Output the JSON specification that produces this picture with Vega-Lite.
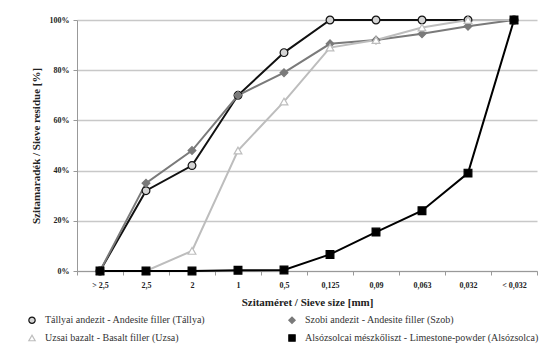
{
  "$schema": "https://vega.github.io/schema/vega-lite/v6.json",
  "width": 460,
  "height": 251,
  "autosize": "none",
  "padding": {"left": 77, "top": 20, "right": 3, "bottom": 77},
  "background": "white",
  "config": {
    "font": "Liberation Serif",
    "view": {"stroke": null},
    "legend": {
      "title": null,
      "orient": "none",
      "legendX": -50,
      "legendY": 295,
      "direction": "horizontal",
      "columns": 2,
      "columnPadding": 80,
      "rowPadding": 6,
      "labelFont": "Liberation Serif",
      "labelFontSize": 10,
      "labelColor": "#333",
      "labelLimit": 300,
      "labelOffset": 8,
      "symbolSize": 40,
      "symbolStrokeWidth": 1.2
    }
  },
  "data": {
    "values": [
      {"series": "Tállyai andezit - Andesite filler (Tállya)", "size": "> 2,5", "value": 0},
      {"series": "Tállyai andezit - Andesite filler (Tállya)", "size": "2,5", "value": 0.32},
      {"series": "Tállyai andezit - Andesite filler (Tállya)", "size": "2", "value": 0.42},
      {"series": "Tállyai andezit - Andesite filler (Tállya)", "size": "1", "value": 0.70},
      {"series": "Tállyai andezit - Andesite filler (Tállya)", "size": "0,5", "value": 0.87},
      {"series": "Tállyai andezit - Andesite filler (Tállya)", "size": "0,125", "value": 1.0},
      {"series": "Tállyai andezit - Andesite filler (Tállya)", "size": "0,09", "value": 1.0},
      {"series": "Tállyai andezit - Andesite filler (Tállya)", "size": "0,063", "value": 1.0},
      {"series": "Tállyai andezit - Andesite filler (Tállya)", "size": "0,032", "value": 1.0},
      {"series": "Tállyai andezit - Andesite filler (Tállya)", "size": "< 0,032", "value": 1.0},
      {"series": "Szobi andezit - Andesite filler (Szob)", "size": "> 2,5", "value": 0},
      {"series": "Szobi andezit - Andesite filler (Szob)", "size": "2,5", "value": 0.35},
      {"series": "Szobi andezit - Andesite filler (Szob)", "size": "2", "value": 0.48},
      {"series": "Szobi andezit - Andesite filler (Szob)", "size": "1", "value": 0.70},
      {"series": "Szobi andezit - Andesite filler (Szob)", "size": "0,5", "value": 0.79},
      {"series": "Szobi andezit - Andesite filler (Szob)", "size": "0,125", "value": 0.905},
      {"series": "Szobi andezit - Andesite filler (Szob)", "size": "0,09", "value": 0.92},
      {"series": "Szobi andezit - Andesite filler (Szob)", "size": "0,063", "value": 0.945},
      {"series": "Szobi andezit - Andesite filler (Szob)", "size": "0,032", "value": 0.975},
      {"series": "Szobi andezit - Andesite filler (Szob)", "size": "< 0,032", "value": 1.0},
      {"series": "Uzsai bazalt - Basalt filler (Uzsa)", "size": "> 2,5", "value": 0},
      {"series": "Uzsai bazalt - Basalt filler (Uzsa)", "size": "2,5", "value": 0},
      {"series": "Uzsai bazalt - Basalt filler (Uzsa)", "size": "2", "value": 0.08},
      {"series": "Uzsai bazalt - Basalt filler (Uzsa)", "size": "1", "value": 0.48},
      {"series": "Uzsai bazalt - Basalt filler (Uzsa)", "size": "0,5", "value": 0.675},
      {"series": "Uzsai bazalt - Basalt filler (Uzsa)", "size": "0,125", "value": 0.89},
      {"series": "Uzsai bazalt - Basalt filler (Uzsa)", "size": "0,09", "value": 0.92},
      {"series": "Uzsai bazalt - Basalt filler (Uzsa)", "size": "0,063", "value": 0.97},
      {"series": "Uzsai bazalt - Basalt filler (Uzsa)", "size": "0,032", "value": 1.0},
      {"series": "Uzsai bazalt - Basalt filler (Uzsa)", "size": "< 0,032", "value": 1.0},
      {"series": "Alsózsolcai mészkőliszt - Limestone-powder (Alsózsolca)", "size": "> 2,5", "value": 0},
      {"series": "Alsózsolcai mészkőliszt - Limestone-powder (Alsózsolca)", "size": "2,5", "value": 0},
      {"series": "Alsózsolcai mészkőliszt - Limestone-powder (Alsózsolca)", "size": "2", "value": 0},
      {"series": "Alsózsolcai mészkőliszt - Limestone-powder (Alsózsolca)", "size": "1", "value": 0.003},
      {"series": "Alsózsolcai mészkőliszt - Limestone-powder (Alsózsolca)", "size": "0,5", "value": 0.004},
      {"series": "Alsózsolcai mészkőliszt - Limestone-powder (Alsózsolca)", "size": "0,125", "value": 0.066},
      {"series": "Alsózsolcai mészkőliszt - Limestone-powder (Alsózsolca)", "size": "0,09", "value": 0.155},
      {"series": "Alsózsolcai mészkőliszt - Limestone-powder (Alsózsolca)", "size": "0,063", "value": 0.24},
      {"series": "Alsózsolcai mészkőliszt - Limestone-powder (Alsózsolca)", "size": "0,032", "value": 0.39},
      {"series": "Alsózsolcai mészkőliszt - Limestone-powder (Alsózsolca)", "size": "< 0,032", "value": 1.0}
    ]
  },
  "encoding": {
    "x": {
      "field": "size",
      "type": "ordinal",
      "sort": ["> 2,5", "2,5", "2", "1", "0,5", "0,125", "0,09", "0,063", "0,032", "< 0,032"],
      "scale": {"type": "band", "paddingInner": 0, "paddingOuter": 0},
      "axis": {
        "title": "Szitaméret / Sieve size [mm]",
        "titleFont": "Liberation Serif",
        "titleFontSize": 11,
        "titleFontWeight": "bold",
        "titleColor": "#222",
        "titlePadding": 7,
        "labelAngle": 0,
        "labelFontSize": 8,
        "labelFontWeight": "bold",
        "labelColor": "#222",
        "labelPadding": 6,
        "tickBand": "extent",
        "tickColor": "#999",
        "tickSize": 4,
        "domainColor": "#999",
        "grid": false
      }
    },
    "y": {
      "field": "value",
      "type": "quantitative",
      "scale": {"domain": [0, 1]},
      "axis": {
        "title": "Szitamaradék / Sieve residue [%]",
        "titleFont": "Liberation Serif",
        "titleFontSize": 11,
        "titleFontWeight": "bold",
        "titleColor": "#222",
        "titlePadding": 8,
        "values": [0, 0.2, 0.4, 0.6, 0.8, 1],
        "format": ".0%",
        "labelFontSize": 8,
        "labelFontWeight": "bold",
        "labelColor": "#222",
        "labelPadding": 4,
        "tickColor": "#999",
        "tickSize": 4,
        "domainColor": "#999",
        "gridColor": "#c8c8c8",
        "gridWidth": 1.5
      }
    }
  },
  "layer": [
    {
      "mark": {"type": "line", "strokeWidth": 2},
      "encoding": {
        "stroke": {
          "field": "series",
          "type": "nominal",
          "scale": {
            "domain": [
              "Tállyai andezit - Andesite filler (Tállya)",
              "Szobi andezit - Andesite filler (Szob)",
              "Uzsai bazalt - Basalt filler (Uzsa)",
              "Alsózsolcai mészkőliszt - Limestone-powder (Alsózsolca)"
            ],
            "range": ["#111111", "#7a7a7a", "#bdbdbd", "#000000"]
          }
        }
      }
    },
    {
      "mark": {"type": "point", "filled": false, "size": 60, "strokeWidth": 1.2, "opacity": 1},
      "encoding": {
        "shape": {
          "field": "series",
          "type": "nominal",
          "scale": {
            "domain": [
              "Tállyai andezit - Andesite filler (Tállya)",
              "Szobi andezit - Andesite filler (Szob)",
              "Uzsai bazalt - Basalt filler (Uzsa)",
              "Alsózsolcai mészkőliszt - Limestone-powder (Alsózsolca)"
            ],
            "range": ["circle", "diamond", "triangle-up", "square"]
          }
        },
        "fill": {
          "field": "series",
          "type": "nominal",
          "scale": {
            "domain": [
              "Tállyai andezit - Andesite filler (Tállya)",
              "Szobi andezit - Andesite filler (Szob)",
              "Uzsai bazalt - Basalt filler (Uzsa)",
              "Alsózsolcai mészkőliszt - Limestone-powder (Alsózsolca)"
            ],
            "range": ["#d4d4d4", "#7a7a7a", "#ffffff", "#000000"]
          }
        },
        "stroke": {
          "field": "series",
          "type": "nominal",
          "scale": {
            "domain": [
              "Tállyai andezit - Andesite filler (Tállya)",
              "Szobi andezit - Andesite filler (Szob)",
              "Uzsai bazalt - Basalt filler (Uzsa)",
              "Alsózsolcai mészkőliszt - Limestone-powder (Alsózsolca)"
            ],
            "range": ["#111111", "#7a7a7a", "#bdbdbd", "#000000"]
          }
        }
      }
    }
  ]
}
